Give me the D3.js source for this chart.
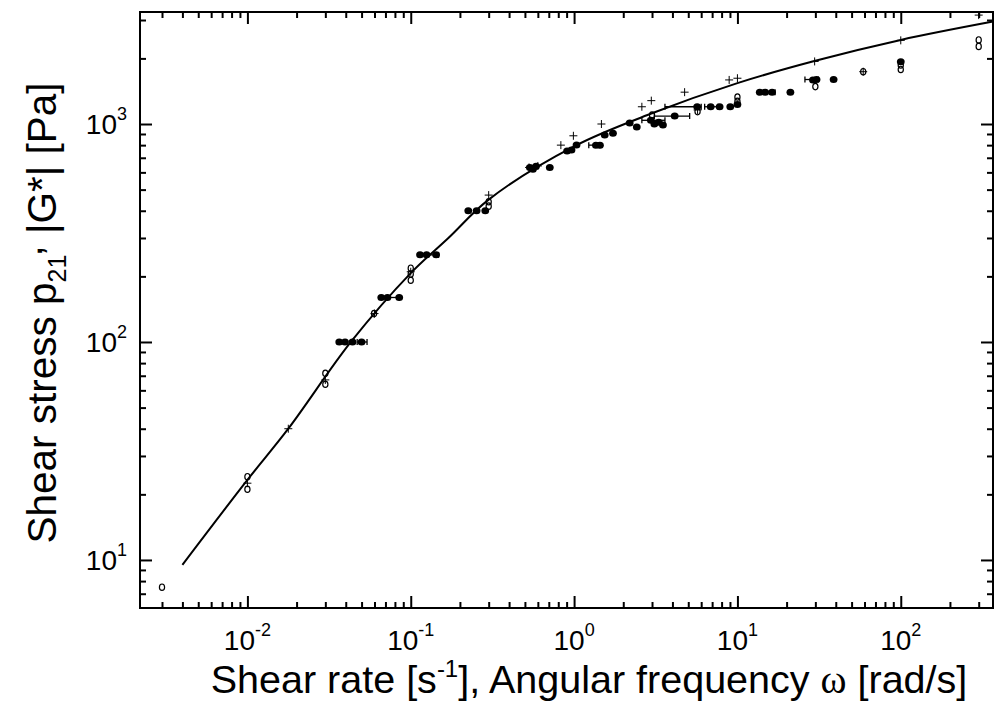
<!DOCTYPE html>
<html>
<head>
<meta charset="utf-8">
<script src="https://cdn.jsdelivr.net/npm/d3@7"></script>
<style>
  body { margin: 0; background: #fff; }
  svg { display: block; }
  text { font-family: "Liberation Sans", Arial, sans-serif; fill: #000; }
</style>
</head>
<body>
<svg id="chart" width="997" height="701"></svg>
<script>
// steady shear (filled), oscillatory |G*| (open), other run (plus), model curve (line)
const filledX = [0.0365, 0.0396, 0.044, 0.050, 0.066, 0.072, 0.085, 0.114, 0.125, 0.143,
  0.225, 0.253, 0.286, 0.536, 0.56, 0.585, 0.71, 0.906, 0.964, 1.035, 1.36, 1.44, 1.54, 1.73,
  2.19, 2.42, 2.95, 3.1, 3.3, 3.5, 4.13, 5.67, 6.86, 7.78, 9.04, 10, 13.7, 14.8, 16.3, 21.1,
  29.0, 30.5, 38.8, 100];
const filledY = [100, 100, 100, 100, 160, 160, 160, 251, 251, 251,
  400, 400, 400, 632, 620, 640, 632, 752, 760, 801, 800, 800, 891, 906,
  1010, 969, 1040, 1000, 1020, 990, 1088, 1200, 1200, 1200, 1200, 1230, 1400, 1400, 1400, 1400,
  1590, 1600, 1600, 1930];

const errY  = [100, 160, 251, 800, 1040, 1088, 1200, 1200, 1400, 1600];
const errLo = [0.047, 0.072, 0.125, 1.23, 2.6, 3.1, 3.6, 6.3, 13.5, 25.9];
const errHi = [0.054, 0.085, 0.148, 1.44, 3.6, 5.1, 6.0, 7.6, 17.0, 31.3];

const openX = [0.003, 0.01, 0.01, 0.03, 0.03, 0.0596, 0.1, 0.1, 0.1, 0.3, 0.3,
  3.0, 5.7, 10, 10, 30, 58.9, 100, 100, 300, 300];
const openY = [7.5, 24.1, 21.1, 71.8, 64, 135, 218, 205, 192, 440, 420,
  1100, 1140, 1270, 1330, 1485, 1738, 1865, 1780, 2430, 2270];

const plusX = [0.01, 0.0178, 0.03, 0.06, 0.1, 0.3, 0.53, 0.6, 0.83, 0.99, 1.47, 2.6, 2.97,
  4.75, 5.7, 8.9, 10, 29.7, 58.9, 100, 300];
const plusY = [22.5, 40, 67, 135, 210, 472, 632, 642, 800, 883, 1000, 1200, 1280,
  1400, 1160, 1593, 1622, 1937, 1738, 2420, 3160];

const fitX = [0.004, 0.01, 0.0178, 0.043, 0.1, 0.17, 0.3, 1, 3, 10, 30, 100, 367];
const fitY = [9.5, 23.3, 40, 100, 207, 300, 450, 790, 1120, 1540, 1950, 2430, 2950];

const xMajor = [0.01, 0.1, 1, 10, 100];
const xMajorExp = ["-2", "-1", "0", "1", "2"];
const yMajor = [10, 100, 1000];
const yMajorExp = ["1", "2", "3"];

const padL = 140, padR = 993, padT = 12, padB = 608;
const svg = d3.select("#chart");

const x = d3.scaleLog().domain([0.0022, 367]).range([padL, padR]);
const y = d3.scaleLog().domain([6.02, 3265]).range([padB, padT]);

// minor tick positions 2..9 per decade inside the domain
function minors(scale) {
  const [a, b] = scale.domain();
  const out = [];
  for (let e = Math.floor(Math.log10(a)); e <= Math.ceil(Math.log10(b)); e++) {
    for (let m = 2; m <= 9; m++) {
      const v = m * Math.pow(10, e);
      if (v > a && v < b) out.push(v);
    }
  }
  return out;
}

function tickAxis(axisFn, scale, vals, size, tx, ty) {
  const g = svg.append("g")
    .attr("transform", "translate(" + tx + "," + ty + ")")
    .call(axisFn(scale).tickValues(vals).tickSize(size).tickFormat(""));
  g.select(".domain").remove();
  g.selectAll("line").attr("stroke", "#000").attr("stroke-width", 2);
}

const xMinor = minors(x), yMinor = minors(y);
tickAxis(d3.axisBottom, x, xMajor, -12, 0, padB);
tickAxis(d3.axisBottom, x, xMinor, -6, 0, padB);
tickAxis(d3.axisTop, x, xMajor, -12, 0, padT);
tickAxis(d3.axisTop, x, xMinor, -6, 0, padT);
tickAxis(d3.axisLeft, y, yMajor, -12, padL, 0);
tickAxis(d3.axisLeft, y, yMinor, -6, padL, 0);
tickAxis(d3.axisRight, y, yMajor, -12, padR, 0);
tickAxis(d3.axisRight, y, yMinor, -6, padR, 0);

svg.append("rect")
  .attr("x", padL).attr("y", padT)
  .attr("width", padR - padL).attr("height", padB - padT)
  .attr("fill", "none").attr("stroke", "#000").attr("stroke-width", 2);

// tick labels 10^n
xMajor.forEach((v, i) => {
  const t = svg.append("text")
    .attr("x", x(v)).attr("y", 650)
    .attr("text-anchor", "middle")
    .style("font-size", "28px");
  t.append("tspan").text("10");
  t.append("tspan").attr("dy", -14).style("font-size", "18px").text(xMajorExp[i]);
});
yMajor.forEach((v, i) => {
  const t = svg.append("text")
    .attr("x", 127).attr("y", y(v) + 10)
    .attr("text-anchor", "end")
    .style("font-size", "28px");
  t.append("tspan").text("10");
  t.append("tspan").attr("dy", -14).style("font-size", "18px").text(yMajorExp[i]);
});

// axis titles
const xt = svg.append("text")
  .attr("x", 589).attr("y", 693)
  .attr("text-anchor", "middle")
  .style("font-size", "39.5px");
xt.append("tspan").text("Shear rate [s");
xt.append("tspan").attr("dy", -16).style("font-size", "24px").text("-1");
xt.append("tspan").attr("dy", 16).text("], Angular frequency ");
xt.append("tspan").style("font-family", "'Liberation Serif', serif").text("ω");
xt.append("tspan").text(" [rad/s]");

const yt = svg.append("text")
  .attr("transform", "translate(56,313) rotate(-90)")
  .attr("text-anchor", "middle")
  .style("font-size", "40.5px");
yt.append("tspan").text("Shear stress p");
yt.append("tspan").attr("dy", 10).style("font-size", "25px").text("21");
yt.append("tspan").attr("dy", -24).attr("dx", -2).text(",");
yt.append("tspan").attr("dy", 14).text(" |G*| [Pa]");

// model curve
const line = d3.line()
  .x((d, i) => x(fitX[i]))
  .y((d, i) => y(fitY[i]))
  .curve(d3.curveCatmullRom.alpha(0.5));
svg.append("path")
  .attr("d", line(fitX))
  .attr("fill", "none")
  .attr("stroke", "#000")
  .attr("stroke-width", 2);

// horizontal error bars
const eb = svg.append("g").attr("stroke", "#000").attr("stroke-width", 1.3);
errY.forEach((v, i) => {
  const yy = y(v), x0 = x(errLo[i]), x1 = x(errHi[i]);
  eb.append("line").attr("x1", x0).attr("x2", x1).attr("y1", yy).attr("y2", yy);
  eb.append("line").attr("x1", x0).attr("x2", x0).attr("y1", yy - 3).attr("y2", yy + 3);
  eb.append("line").attr("x1", x1).attr("x2", x1).attr("y1", yy - 3).attr("y2", yy + 3);
});

// open circles
svg.append("g").selectAll("ellipse")
  .data(openX)
  .join("ellipse")
  .attr("cx", d => x(d))
  .attr("cy", (d, i) => y(openY[i]))
  .attr("rx", 2.6).attr("ry", 3.2)
  .attr("fill", "none")
  .attr("stroke", "#000")
  .attr("stroke-width", 1.2);

// plus markers
const pg = svg.append("g").attr("stroke", "#000").attr("stroke-width", 1);
plusX.forEach((v, i) => {
  const cx = x(v), cy = y(plusY[i]);
  pg.append("line").attr("x1", cx - 4).attr("x2", cx + 4).attr("y1", cy).attr("y2", cy);
  pg.append("line").attr("x1", cx).attr("x2", cx).attr("y1", cy - 4).attr("y2", cy + 4);
});

// filled circles
svg.append("g").selectAll("ellipse")
  .data(filledX)
  .join("ellipse")
  .attr("cx", d => x(d))
  .attr("cy", (d, i) => y(filledY[i]))
  .attr("rx", 3.9).attr("ry", 3.5)
  .attr("fill", "#000");
</script>
</body>
</html>
